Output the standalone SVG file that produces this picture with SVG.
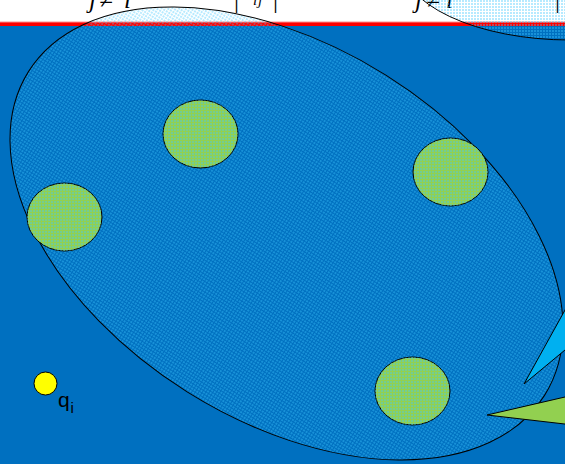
<svg xmlns="http://www.w3.org/2000/svg" width="565" height="464" viewBox="0 0 565 464">
  <defs>
    <pattern id="dots" width="3" height="3" patternUnits="userSpaceOnUse">
      <rect x="0" y="0" width="2" height="2" fill="#40C8FF" fill-opacity="0.38"/>
    </pattern>
    <style>
      .math { font-family: "Liberation Serif", "Times New Roman", serif; font-style: italic; fill: #000; }
      .bar { font-family: "Liberation Serif", "Times New Roman", serif; fill: #000; }
      .outline { stroke: #000; stroke-width: 1; }
      .dotfill { fill: url(#dots); }
      .green { fill: #92D050; stroke: #000; stroke-width: 1; }
      .label { font-family: "Liberation Sans", Arial, sans-serif; fill: #000; }
    </style>
  </defs>

  <!-- background -->
  <rect x="0" y="0" width="565" height="464" fill="#0070C0"/>
  <rect x="0" y="0" width="565" height="22.5" fill="#FFFFFF"/>
  <rect x="0" y="21.5" width="565" height="1.5" fill="#FF9090"/>
  <rect x="0" y="22.5" width="565" height="3.5" fill="#FF0000"/>

  <!-- clipped equation fragments at top -->
  <g id="equation-top">
    <text class="math" font-size="25" y="8"><tspan x="89">j</tspan><tspan x="99">≠</tspan><tspan x="124">i</tspan></text>
    <text class="bar" font-size="25" x="234" y="8">|</text>
    <text class="math" font-size="15" y="5"><tspan x="253">i</tspan><tspan x="258">j</tspan></text>
    <text class="bar" font-size="25" x="273" y="8">|</text>
    <text class="math" font-size="25" y="8"><tspan x="415">j</tspan><tspan x="426">≠</tspan><tspan x="446">i</tspan></text>
    <text class="bar" font-size="25" x="555" y="8">|</text>
  </g>

  <!-- big ellipse -->
  <g id="cluster-ellipse">
    <ellipse cx="286.5" cy="233.5" rx="304.6" ry="187" transform="rotate(32.1 286.5 233.5)" class="dotfill outline"/>
  </g>

  <!-- partial ellipse top right -->
  <g id="ellipse-top-right">
    <ellipse cx="570" cy="-40" rx="170" ry="80" class="dotfill outline"/>
  </g>

  <!-- green charges -->
  <g id="charge-1">
    <ellipse cx="200.5" cy="134" rx="37.5" ry="34" class="green"/>
    <ellipse cx="200.5" cy="134" rx="37.5" ry="34" class="dotfill"/>
  </g>
  <g id="charge-2">
    <ellipse cx="64.5" cy="217" rx="37.5" ry="34" class="green"/>
    <ellipse cx="64.5" cy="217" rx="37.5" ry="34" class="dotfill"/>
  </g>
  <g id="charge-3">
    <ellipse cx="450.5" cy="172" rx="37.5" ry="34" class="green"/>
    <ellipse cx="450.5" cy="172" rx="37.5" ry="34" class="dotfill"/>
  </g>
  <g id="charge-4">
    <ellipse cx="412.5" cy="391" rx="37.5" ry="34" class="green"/>
    <ellipse cx="412.5" cy="391" rx="37.5" ry="34" class="dotfill"/>
  </g>

  <!-- test charge q_i -->
  <g id="charge-qi">
    <circle cx="45.5" cy="383.5" r="11.5" fill="#FFFF00" stroke="#000" stroke-width="1"/>
    <text class="label" font-size="21" x="58" y="407">q</text>
    <text class="label" font-size="15" x="70.5" y="413">i</text>
  </g>

  <!-- callout pointers -->
  <g id="connectors">
    <polygon points="524,384 575,292 575,341.7" fill="#00B0F0" stroke="#000" stroke-width="1"/>
    <polygon points="487,415 575,394.7 575,425.2" fill="#92D050" stroke="#000" stroke-width="1"/>
  </g>
</svg>
